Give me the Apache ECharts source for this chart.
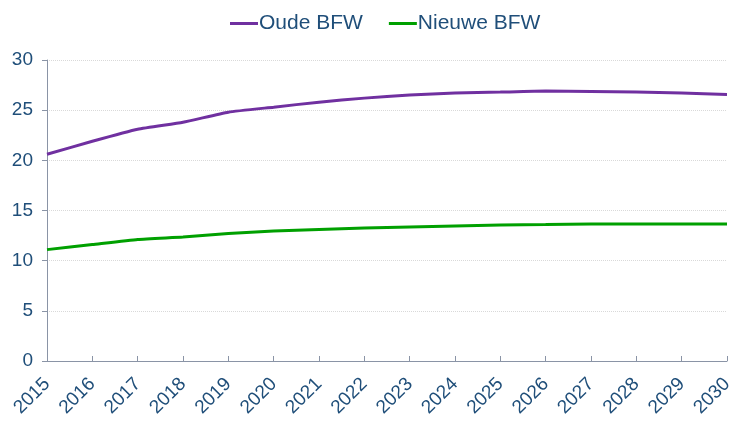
<!DOCTYPE html>
<html>
<head>
<meta charset="utf-8">
<script src="https://cdn.jsdelivr.net/npm/echarts@6/dist/echarts.min.js"></script>
<style>
html, body { margin: 0; padding: 0; background: #fff; }
#main { width: 731px; height: 421px; }
</style>
</head>
<body>
<div id="main"></div>
<script>
var years = ['2015', '2016', '2017', '2018', '2019', '2020', '2021', '2022',
	'2023', '2024', '2025', '2026', '2027', '2028', '2029', '2030'];
var oudeBFW = [20.6, 21.9, 23.1, 23.8, 24.8, 25.3, 25.8, 26.2,
	26.5, 26.7, 26.8, 26.9, 26.85, 26.8, 26.7, 26.55];
var nieuweBFW = [11.1, 11.6, 12.1, 12.35, 12.7, 12.95, 13.1, 13.25,
	13.35, 13.45, 13.55, 13.6, 13.65, 13.65, 13.65, 13.65];

var textColor = '#1f4e79';
var myChart = echarts.init(document.getElementById('main'));

var option = {
	animation: false,
	textStyle: { fontFamily: 'Liberation Sans, Arial, sans-serif' },
	legend: {
		top: 8,
		left: 225,
		itemWidth: 28,
		itemHeight: 3,
		itemGap: 26,
		icon: 'rect',
		textStyle: { color: textColor, fontSize: 21, padding: [0, 0, 0, -4] },
		data: ['Oude BFW', 'Nieuwe BFW']
	},
	grid: {
		left: 47,
		right: 4,
		top: 60,
		bottom: 60,
		outerBoundsMode: 'none'
	},
	xAxis: {
		type: 'category',
		boundaryGap: false,
		data: years,
		axisLine: { lineStyle: { color: '#8a94a6', width: 1 } },
		axisTick: { inside: true, length: 5, lineStyle: { color: '#8a94a6' } },
		axisLabel: { rotate: 45, color: textColor, fontSize: 19, margin: 20 }
	},
	yAxis: {
		type: 'value',
		min: 0,
		max: 30,
		interval: 5,
		axisLine: { show: true, lineStyle: { color: '#8a94a6', width: 1 } },
		axisTick: { show: true, length: 5, lineStyle: { color: '#8a94a6' } },
		axisLabel: { color: textColor, fontSize: 19, margin: 14 },
		splitLine: { lineStyle: { color: '#d9d9d9', type: 'dotted' } }
	},
	series: [
		{
			name: 'Oude BFW',
			type: 'line',
			smooth: 0.15,
			symbol: 'none',
			data: oudeBFW,
			itemStyle: { color: '#7030a0' },
			lineStyle: { color: '#7030a0', width: 3 }
		},
		{
			name: 'Nieuwe BFW',
			type: 'line',
			smooth: 0.15,
			symbol: 'none',
			data: nieuweBFW,
			itemStyle: { color: '#00a000' },
			lineStyle: { color: '#00a000', width: 3 }
		}
	]
};

myChart.setOption(option);
</script>
</body>
</html>
